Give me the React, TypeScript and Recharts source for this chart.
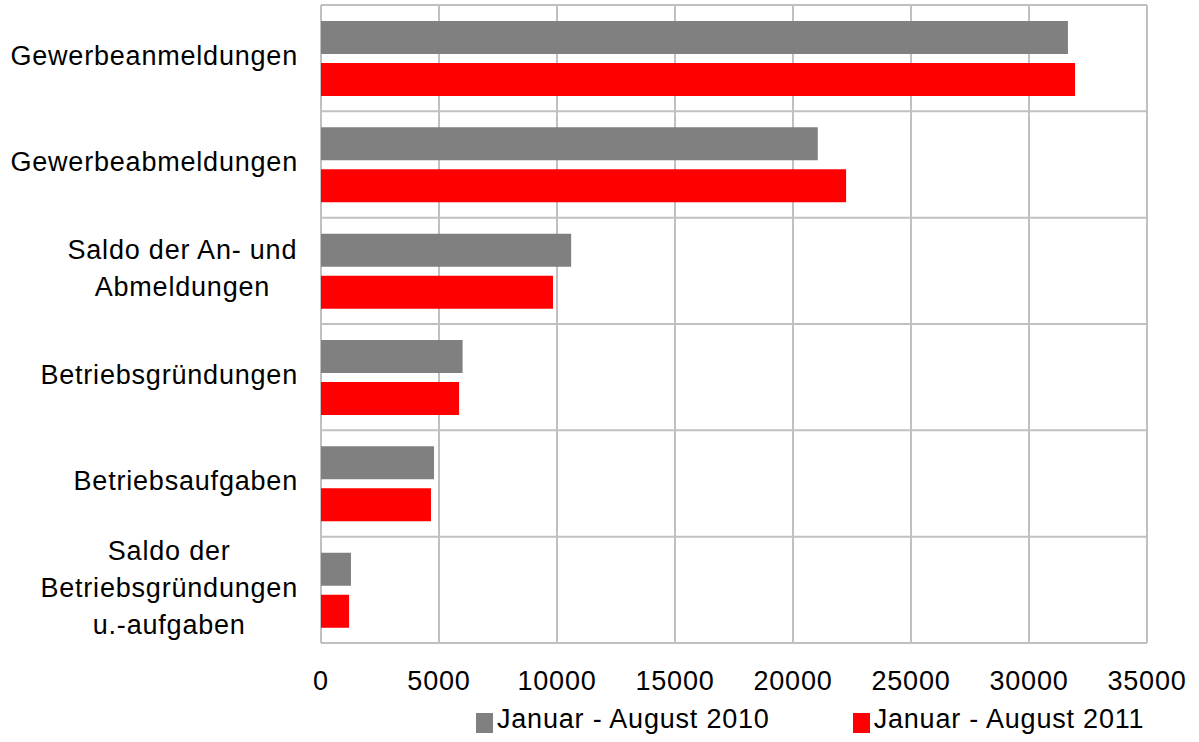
import React from "react";
import {
	BarChart,
	Bar,
	XAxis,
	YAxis,
	CartesianGrid,
	Legend,
} from "recharts";

const categories = [
	"Gewerbeanmeldungen",
	"Gewerbeabmeldungen",
	"Saldo der An- und\nAbmeldungen",
	"Betriebsgründungen",
	"Betriebsaufgaben",
	"Saldo der\nBetriebsgründungen\nu.-aufgaben",
];
const values2010 = [31650, 21050, 10600, 6000, 4790, 1270];
const values2011 = [31950, 22250, 9830, 5850, 4660, 1190];
const xTicks = [0, 5000, 10000, 15000, 20000, 25000, 30000, 35000];

const SERIES_2010 = "Januar - August 2010";
const SERIES_2011 = "Januar - August 2011";
const GRAY = "#808080";
const RED = "#ff0000";
const GRID = "#c0c0c0";
const FONT = "'Liberation Sans', Arial, sans-serif";
const FONT_SIZE = 27;
const LETTER_SPACING = 0.8;

const data = categories.map((name, i) => ({
	name,
	[SERIES_2010]: values2010[i],
	[SERIES_2011]: values2011[i],
}));

let measureCtx: CanvasRenderingContext2D | null = null;
function textWidth(s: string) {
	if (!measureCtx) {
		measureCtx = document.createElement("canvas").getContext("2d");
	}
	if (!measureCtx) return s.length * 14;
	measureCtx.font = `${FONT_SIZE}px ${FONT}`;
	return measureCtx.measureText(s).width + s.length * LETTER_SPACING;
}

function CategoryTick(props: any) {
	const { x, y, payload } = props;
	const lines: string[] = String(payload.value).split("\n");
	const lineH = 37;
	const right = x - 15;
	const startY = y - 3 - ((lines.length - 1) * lineH) / 2;
	const maxW = Math.max(...lines.map(textWidth));
	const anchorX = lines.length > 1 ? right - maxW / 2 : right;
	return (
		<text
			fontFamily={FONT}
			fontSize={FONT_SIZE}
			letterSpacing={LETTER_SPACING}
			fill="#000"
			textAnchor={lines.length > 1 ? "middle" : "end"}
		>
			{lines.map((l, i) => (
				<tspan key={i} x={anchorX} y={startY + i * lineH} dy="0.36em">
					{l}
				</tspan>
			))}
		</text>
	);
}

function renderLegend() {
	const items = [
		{ label: SERIES_2010, color: GRAY },
		{ label: SERIES_2011, color: RED },
	];
	return (
		<div
			style={{
				display: "flex",
				alignItems: "center",
				paddingLeft: 476,
				marginTop: 1,
				fontFamily: FONT,
				fontSize: FONT_SIZE,
				letterSpacing: LETTER_SPACING,
				color: "#000",
				whiteSpace: "nowrap",
			}}
		>
			{items.map((it, i) => (
				<div
					key={it.label}
					style={{ display: "flex", alignItems: "center", marginRight: i === 0 ? 83 : 0 }}
				>
					<span
						style={{
							display: "inline-block",
							width: 17,
							height: 20,
							background: it.color,
							marginRight: 4,
							marginTop: 6,
						}}
					/>
					<span>{it.label}</span>
				</div>
			))}
		</div>
	);
}

export default function App() {
	const n = categories.length;
	return (
		<div
			style={{
				position: "absolute",
				top: 0,
				left: 0,
				width: 1199,
				height: 742,
				background: "#fff",
			}}
		>
			<BarChart
				width={1199}
				height={742}
				data={data}
				layout="vertical"
				margin={{ top: 5, right: 52, bottom: 0, left: 0 }}
				barSize={33}
				barGap={9}
			>
				<CartesianGrid
					stroke={GRID}
					strokeWidth={2}
					horizontalCoordinatesGenerator={({ offset }: any) =>
						Array.from({ length: n + 1 }, (_, i) => offset.top + (i * offset.height) / n)
					}
				/>
				<XAxis
					type="number"
					domain={[0, 35000]}
					ticks={xTicks}
					interval={0}
					axisLine={false}
					tickLine={false}
					tickSize={0}
					tickMargin={28}
					height={60}
					tick={{ fontSize: FONT_SIZE, fontFamily: FONT, fill: "#000", letterSpacing: LETTER_SPACING }}
				/>
				<YAxis
					type="category"
					dataKey="name"
					width={321}
					axisLine={false}
					tickLine={false}
					interval={0}
					tick={<CategoryTick />}
				/>
				<Legend verticalAlign="bottom" height={39} content={renderLegend} />
				<Bar dataKey={SERIES_2010} fill={GRAY} isAnimationActive={false} />
				<Bar dataKey={SERIES_2011} fill={RED} isAnimationActive={false} />
			</BarChart>
		</div>
	);
}
